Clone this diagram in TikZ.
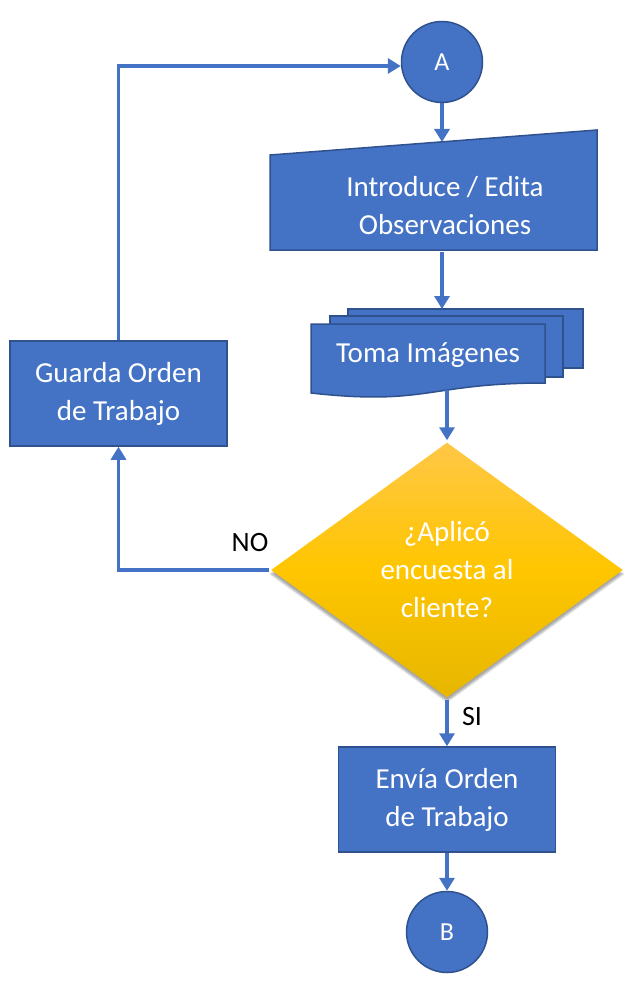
\documentclass[tikz,border=0pt]{standalone}
\usepackage{fontspec}
\setmainfont{Carlito}
\usetikzlibrary{arrows.meta, shapes.geometric, shadows.blur}
\definecolor{azul}{HTML}{4472C4}
\definecolor{borde}{HTML}{2F528F}
\definecolor{oroA}{HTML}{FFC746}
\definecolor{oroB}{HTML}{FFC600}
\definecolor{oroC}{HTML}{E6B600}

\begin{document}
\begin{tikzpicture}[
                x = 1pt, y = -1pt, % pixel units, y going down
                > = {Triangle[width=15pt, length=13pt]}, % arrow head style
                line width = 3.5pt, % connector style
                every node/.style = {font = \fontsize{29}{38}\selectfont}
            ]

            \tikzstyle{relleno}=[draw = borde, fill = azul, line width = 1.5pt]
            \tikzstyle{bloque}=[relleno, text = white, align = center]
            \tikzstyle{caja}=[bloque, rectangle, minimum width = 217pt,
            minimum height = 105pt]
            \tikzstyle{conector}=[bloque, circle, inner sep = 0pt,
            minimum size = 81pt, font = \fontsize{26}{30}\selectfont]
            \tikzstyle{decision}=[diamond, inner sep = 0pt, text = white,
            align = center, minimum width = 353pt, minimum height = 256pt,
            top color = oroA, bottom color = oroC, middle color = oroB,
            blur shadow = {shadow xshift = 0pt, shadow yshift = -4pt,
            shadow opacity = 35}]
            \tikzstyle{flecha}=[draw = azul, ->]
            \tikzstyle{etiqueta}=[text = black, font = \fontsize{28}{34}\selectfont]

            \useasboundingbox (0,0) rectangle (629,984);

            % entrada manual y multidocumento
            \filldraw[relleno] (270,155) -- (597,130) -- (597,250) -- (270,250)
            -- cycle;
            \filldraw[relleno] (348,309) rectangle (583,368);
            \filldraw[relleno] (330,316) rectangle (563,377);
            \filldraw[relleno] (311,324) -- (545,324) -- (545,383) .. controls
            (428,383) and (428,406) .. (311,393) -- cycle;

            \node (A) [conector] at (442,62) {A};
            \node (intro) [text = white, align = center, minimum height = 88pt]
            at (445,206) {Introduce / Edita\\Observaciones};
            \node (fotos) [text = white] at (428,355) {Toma Imágenes};
            \node (dec) [decision] at (447,570) {¿Aplicó\\encuesta al\\cliente?};
            \node (guarda) [caja] at (118.5,393.5) {Guarda Orden\\de Trabajo};
            \node (envia) [caja] at (447,799.5) {Envía Orden\\de Trabajo};
            \node (B) [conector] at (447,932) {B};
            \node (no) [etiqueta] at (250,543) {NO};
            \node (si) [etiqueta] at (472,717) {SI};

            \coordinate (introArriba) at (442,142);
            \coordinate (fotosArriba) at (442,309);
            \coordinate (fotosAbajo) at (447,390);

            \draw[flecha] (A) -- (introArriba);
            \draw[flecha] (A |- intro.south) -- (fotosArriba);
            \draw[flecha] (fotosAbajo) -- (dec.north);
            \draw[flecha] (dec.west) -| (guarda.south);
            \draw[flecha] (guarda.north) |- ([yshift=-4pt]A.west);
            \draw[flecha] (dec.south) -- (envia.north);
            \draw[flecha] (envia.south) -- (B.north);

        \end{tikzpicture}
\end{document}
